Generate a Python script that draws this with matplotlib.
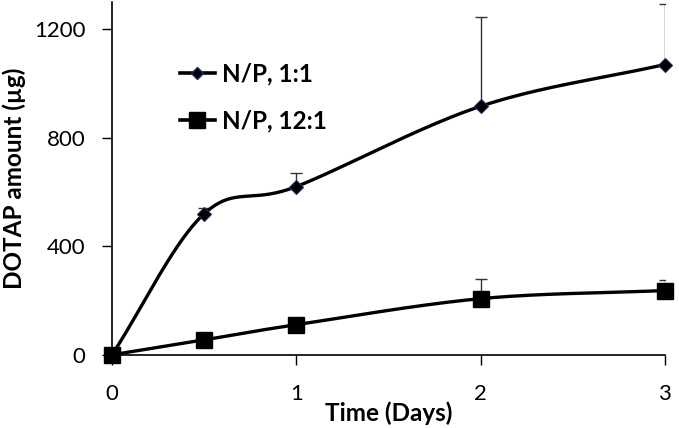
import numpy as np
import matplotlib.pyplot as plt
from matplotlib.lines import Line2D

plt.rcParams['font.family'] = ['Lato', 'DejaVu Sans']

# data
days = [0, 0.5, 1, 2, 3]
np_1_1 = [0, 520, 620, 916, 1070]
np_1_1_err = [0, 20, 52, 330, 224]
np_12_1 = [0, 55, 111, 207, 237]
np_12_1_err = [0, 0, 0, 73, 37]


def smooth(x, y, n=40):
    # catmull-rom curve through the points, like an Excel "smoothed line"
    x = np.asarray(x, float)
    y = np.asarray(y, float)
    px = np.concatenate([[2 * x[0] - x[1]], x, [2 * x[-1] - x[-2]]])
    py = np.concatenate([[2 * y[0] - y[1]], y, [2 * y[-1] - y[-2]]])
    xs, ys = [], []
    t = np.linspace(0, 1, n)
    for i in range(1, len(px) - 2):
        for p, out in ((px, xs), (py, ys)):
            p0, p1, p2, p3 = p[i - 1], p[i], p[i + 1], p[i + 2]
            out.extend(0.5 * ((2 * p1) + (-p0 + p2) * t
                              + (2 * p0 - 5 * p1 + 4 * p2 - p3) * t ** 2
                              + (-p0 + 3 * p1 - 3 * p2 + p3) * t ** 3))
    return xs, ys


fig = plt.figure(figsize=(6.79, 4.28), dpi=100)
ax = fig.add_axes([0.165, 0.171, 0.814, 0.824])

# upper error bars only
ax.errorbar(days, np_1_1, yerr=[np.zeros(len(days)), np_1_1_err], fmt='none',
            ecolor='#333333', elinewidth=1, capsize=4, capthick=1, zorder=2)
ax.errorbar(days, np_12_1, yerr=[np.zeros(len(days)), np_12_1_err], fmt='none',
            ecolor='#333333', elinewidth=1, capsize=4, capthick=1, zorder=2)

sx, sy = smooth(days, np_1_1)
ax.plot(sx, sy, color='black', lw=2.4, zorder=3)
sx, sy = smooth(days, np_12_1)
ax.plot(sx, sy, color='black', lw=2.4, zorder=3)

ax.plot(days, np_1_1, linestyle='none', marker='D', ms=7, color='black',
        mec='#1f2a5a', mew=0.8, zorder=4, clip_on=False)
ax.plot(days, np_12_1, linestyle='none', marker='s', ms=12, color='black',
        zorder=4, clip_on=False)

ax.set_xlim(0, 3)
ax.set_ylim(0, 1300)
ax.set_xticks([0, 1, 2, 3])
ax.set_yticks([0, 400, 800, 1200])
ax.tick_params(labelsize=16, length=7, width=1, direction='out')
ax.tick_params(axis='x', pad=14)
ax.tick_params(axis='y', pad=12)
for s in ['top', 'right']:
    ax.spines[s].set_visible(False)
for s in ['left', 'bottom']:
    ax.spines[s].set_linewidth(1.2)

ax.set_xlabel('Time (Days)', fontsize=17.5, fontweight='bold', labelpad=-2)
ax.set_ylabel('DOTAP amount (µg)', fontsize=17.5, fontweight='bold', labelpad=6)

handles = [
    Line2D([], [], color='black', lw=2.6, marker='D', ms=6, mec='#1f2a5a'),
    Line2D([], [], color='black', lw=2.6, marker='s', ms=11),
]
ax.legend(handles, ['N/P, 1:1', 'N/P, 12:1'], loc='center left',
          bbox_to_anchor=(0.083, 0.729), frameon=False, handlelength=1.44,
          handletextpad=0.3, labelspacing=1.0,
          prop={'weight': 'bold', 'size': 17.5})

plt.savefig('out.png', dpi=100)
